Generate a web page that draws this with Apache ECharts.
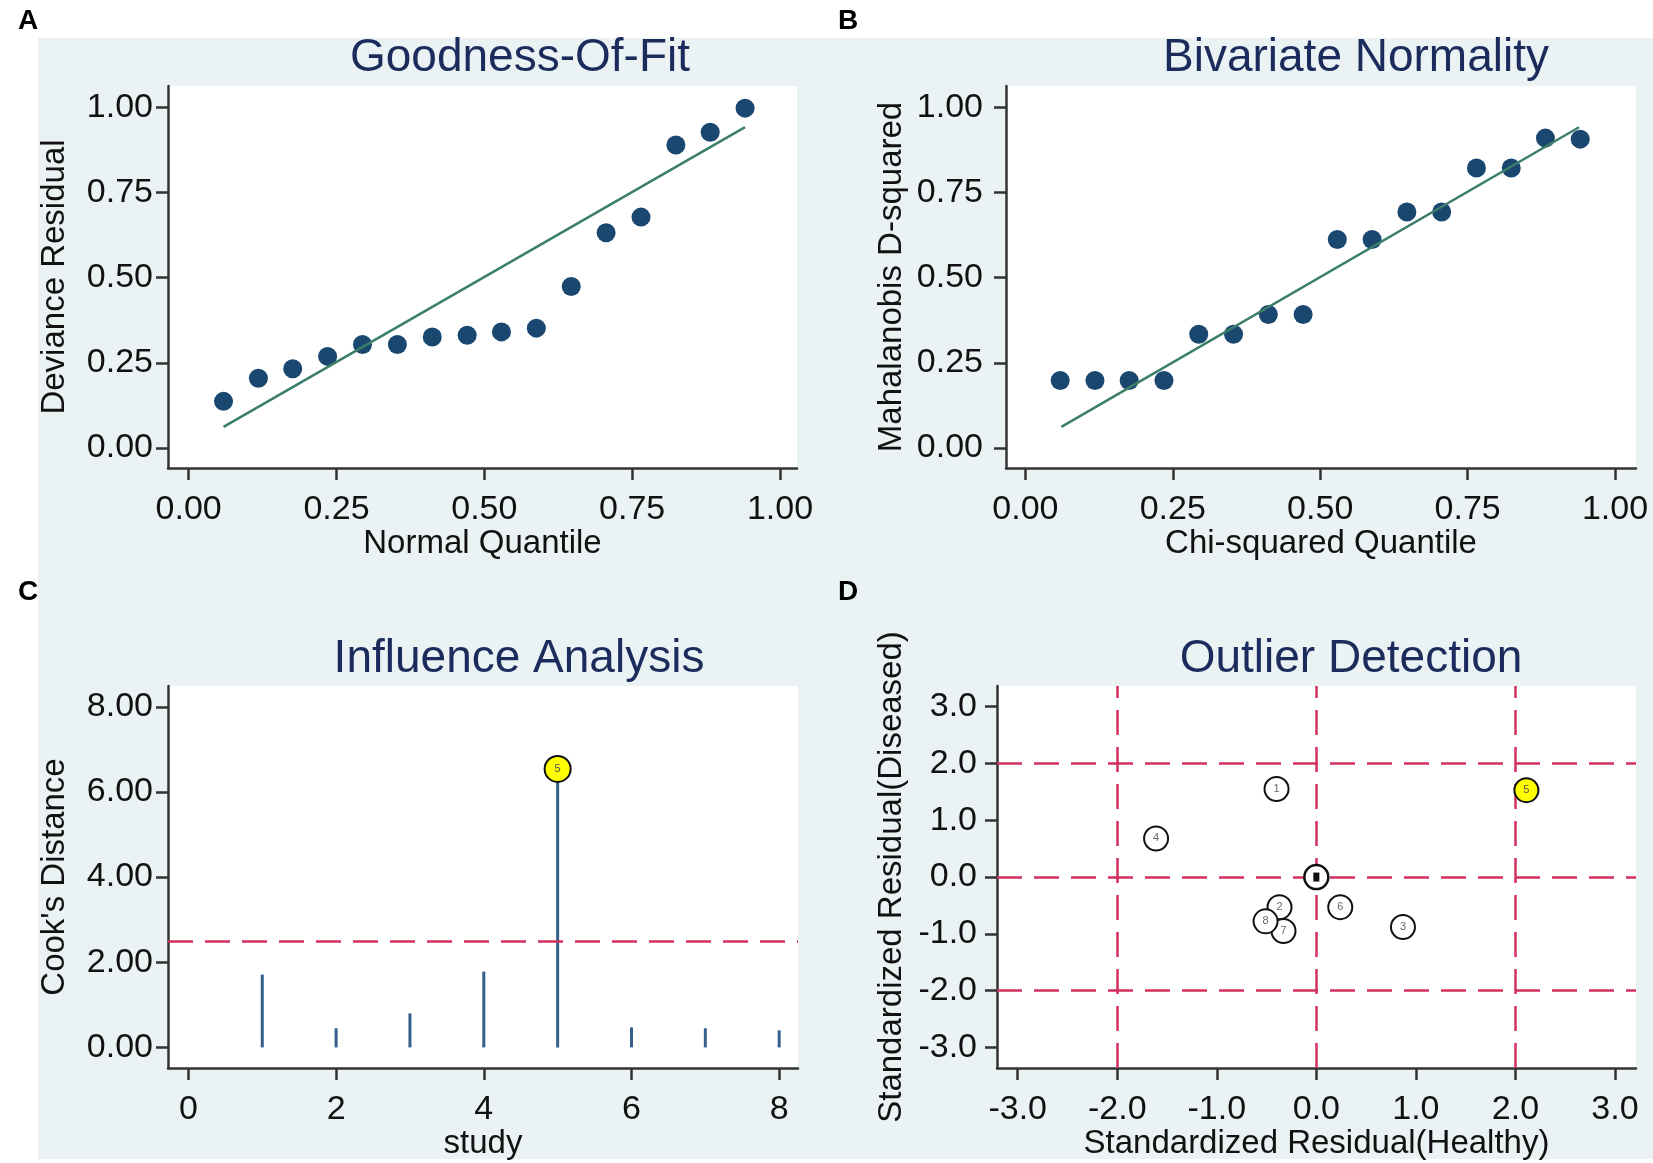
<!DOCTYPE html>
<html>
<head>
<meta charset="utf-8">
<script src="https://cdn.jsdelivr.net/npm/echarts@6/dist/echarts.min.js"></script>
<style>
  html, body { margin: 0; padding: 0; background: #fff; }
  #main { width: 1653px; height: 1163px; }
</style>
</head>
<body>
<div id="main"></div>
<script>
// A: goodness of fit
var gofX = [0.059, 0.118, 0.176, 0.235, 0.294, 0.353, 0.412, 0.471, 0.529, 0.588, 0.647, 0.706, 0.765, 0.824, 0.882, 0.941];
var gofY = [0.137, 0.205, 0.233, 0.269, 0.304, 0.304, 0.326, 0.331, 0.341, 0.352, 0.474, 0.632, 0.678, 0.890, 0.927, 0.998];
var gofLine = [[0.059, 0.062], [0.941, 0.942]];

// B: bivariate normality
var bivX = [0.059, 0.118, 0.176, 0.235, 0.294, 0.353, 0.412, 0.471, 0.529, 0.588, 0.647, 0.706, 0.765, 0.824, 0.882, 0.941];
var bivY = [0.198, 0.198, 0.198, 0.198, 0.334, 0.334, 0.392, 0.392, 0.612, 0.612, 0.693, 0.693, 0.822, 0.822, 0.910, 0.907];
var bivLine = [[0.061, 0.062], [0.939, 0.942]];

// C: influence analysis
var studyIds = [1, 2, 3, 4, 5, 6, 7, 8];
var cooksD = [1.71, 0.45, 0.80, 1.78, 6.54, 0.47, 0.45, 0.40];
var cooksCut = 2.5;

// D: outlier detection
var residHealthy = [-0.40, -0.37, 0.87, -1.61, 2.11, 0.24, -0.33, -0.51];
var residDiseased = [1.55, -0.53, -0.88, 0.68, 1.53, -0.53, -0.95, -0.78];
var residCut = [-2, 0, 2];
var residCenter = [[0, 0]];

// tick labels
var quantTicks = [0, 0.25, 0.5, 0.75, 1];
var studyTicks = [0, 2, 4, 6, 8];
var cookTicks = [0, 2, 4, 6, 8];
var residTicks = [-3, -2, -1, 0, 1, 2, 3];

var FONT = '"Liberation Sans", Arial, sans-serif';
var BG = '#EAF2F3';
var NAVY = '#1A476F';
var GREEN = '#3B7F6A';
var RED = '#D4305E';
var TITLE = '#1B2B5C';

function valueAxis(idx, min, max, ticks, digits, name, gap, margin) {
    return {
        type: 'value',
        gridIndex: idx,
        min: min,
        max: max,
        name: name,
        nameLocation: 'middle',
        nameGap: gap,
        nameTextStyle: { fontFamily: FONT, fontSize: 33, color: '#111' },
        axisLine: { show: true, onZero: false, lineStyle: { color: '#333', width: 2.5 } },
        axisTick: { show: true, inside: false, length: 12, customValues: ticks, lineStyle: { color: '#333', width: 2.5 } },
        axisLabel: {
            show: true,
            customValues: ticks,
            margin: margin,
            fontFamily: FONT,
            fontSize: 34,
            color: '#111',
            formatter: function (v) { return Number(v).toFixed(digits); }
        },
        splitLine: { show: false }
    };
}

function pairs(xs, ys) {
    var out = [];
    for (var i = 0; i < xs.length; i++) out.push([xs[i], ys[i]]);
    return out;
}

// 阈值参考线
function dashLines(axisKey, values) {
    var data = [];
    for (var i = 0; i < values.length; i++) {
        var d = {};
        d[axisKey] = values[i];
        data.push(d);
    }
    return {
        silent: true,
        symbol: ['none', 'none'],
        label: { show: false },
        lineStyle: { color: RED, width: 2.5, type: [25, 12], opacity: 1 },
        data: data
    };
}

var cookBars = pairs(studyIds, cooksD);
var cookOut = cookBars.filter(function (p) { return p[1] > cooksCut; });

var outlierAll = [];
for (var i = 0; i < studyIds.length; i++) {
    outlierAll.push({ value: [residHealthy[i], residDiseased[i]], name: String(studyIds[i]) });
}
var outlierIn = outlierAll.filter(function (d) { return Math.abs(d.value[0]) <= 2 && Math.abs(d.value[1]) <= 2; });
var outlierOut = outlierAll.filter(function (d) { return Math.abs(d.value[0]) > 2 || Math.abs(d.value[1]) > 2; });

var gridBox = { show: true, backgroundColor: '#fff', borderWidth: 0, containLabel: false, outerBoundsMode: 'none' };

var option = {
    backgroundColor: '#fff',
    animation: false,
    textStyle: { fontFamily: FONT },
    graphic: [
        { type: 'rect', z: -100, shape: { x: 38, y: 38, width: 1615, height: 1121 }, style: { fill: BG } },
        { type: 'text', x: 18, y: 21, style: { text: 'A', font: 'bold 28px ' + FONT, fill: '#000', textVerticalAlign: 'middle' } },
        { type: 'text', x: 838, y: 21, style: { text: 'B', font: 'bold 28px ' + FONT, fill: '#000', textVerticalAlign: 'middle' } },
        { type: 'text', x: 18, y: 592, style: { text: 'C', font: 'bold 28px ' + FONT, fill: '#000', textVerticalAlign: 'middle' } },
        { type: 'text', x: 838, y: 592, style: { text: 'D', font: 'bold 28px ' + FONT, fill: '#000', textVerticalAlign: 'middle' } },
        { type: 'text', x: 520, y: 58, style: { text: 'Goodness-Of-Fit', font: '46px ' + FONT, fill: TITLE, textAlign: 'center', textVerticalAlign: 'middle' } },
        { type: 'text', x: 1356, y: 58, style: { text: 'Bivariate Normality', font: '46px ' + FONT, fill: TITLE, textAlign: 'center', textVerticalAlign: 'middle' } },
        { type: 'text', x: 519, y: 659, style: { text: 'Influence Analysis', font: '46px ' + FONT, fill: TITLE, textAlign: 'center', textVerticalAlign: 'middle' } },
        { type: 'text', x: 1351, y: 659, style: { text: 'Outlier Detection', font: '46px ' + FONT, fill: TITLE, textAlign: 'center', textVerticalAlign: 'middle' } }
    ],
    grid: [
        Object.assign({ left: 168, top: 86, width: 629, height: 382 }, gridBox),
        Object.assign({ left: 1006, top: 86, width: 630, height: 382 }, gridBox),
        Object.assign({ left: 168, top: 686, width: 630, height: 382 }, gridBox),
        Object.assign({ left: 997, top: 686, width: 639, height: 382 }, gridBox)
    ],
    xAxis: [
        valueAxis(0, -0.0349, 1.0288, quantTicks, 2, 'Normal Quantile', 57, 25),
        valueAxis(1, -0.0329, 1.0356, quantTicks, 2, 'Chi-squared Quantile', 57, 25),
        valueAxis(2, -0.2765, 8.255, studyTicks, 0, 'study', 58, 25),
        valueAxis(3, -3.208, 3.211, residTicks, 1, 'Standardized Residual(Healthy)', 59, 25)
    ],
    yAxis: [
        valueAxis(0, -0.0587, 1.063, quantTicks, 2, 'Deviance Residual', 97, 15),
        valueAxis(1, -0.0587, 1.063, quantTicks, 2, 'Mahalanobis D-squared', 98, 23),
        valueAxis(2, -0.4836, 8.488, cookTicks, 2, "Cook's Distance", 97, 15),
        valueAxis(3, -3.362, 3.364, residTicks, 1, 'Standardized Residual(Diseased)', 89, 20)
    ],
    series: [
        {
            type: 'scatter', xAxisIndex: 0, yAxisIndex: 0,
            data: pairs(gofX, gofY),
            symbolSize: 19,
            itemStyle: { color: NAVY, opacity: 1 }
        },
        {
            type: 'line', xAxisIndex: 0, yAxisIndex: 0,
            data: gofLine, showSymbol: false, symbol: 'none',
            lineStyle: { color: GREEN, width: 2.5 }
        },
        {
            type: 'scatter', xAxisIndex: 1, yAxisIndex: 1,
            data: pairs(bivX, bivY),
            symbolSize: 19,
            itemStyle: { color: NAVY, opacity: 1 }
        },
        {
            type: 'line', xAxisIndex: 1, yAxisIndex: 1,
            data: bivLine, showSymbol: false, symbol: 'none',
            lineStyle: { color: GREEN, width: 2.5 }
        },
        {
            type: 'bar', xAxisIndex: 2, yAxisIndex: 2,
            data: cookBars,
            barWidth: 3,
            itemStyle: { color: '#35608C' },
            markLine: dashLines('yAxis', [cooksCut])
        },
        {
            type: 'scatter', xAxisIndex: 2, yAxisIndex: 2,
            data: cookOut,
            symbolSize: 26,
            itemStyle: { color: '#FFFF00', borderColor: '#111', borderWidth: 2, opacity: 1 },
            label: { show: true, position: 'inside', fontSize: 11, color: '#555', formatter: function (p) { return String(p.value[0]); } },
            z: 5
        },
        {
            type: 'scatter', xAxisIndex: 3, yAxisIndex: 3,
            data: [],
            markLine: dashLines('xAxis', residCut)
        },
        {
            type: 'scatter', xAxisIndex: 3, yAxisIndex: 3,
            data: [],
            markLine: dashLines('yAxis', residCut)
        },
        {
            type: 'scatter', xAxisIndex: 3, yAxisIndex: 3,
            data: outlierIn,
            symbolSize: 24,
            itemStyle: { color: '#fff', borderColor: '#111', borderWidth: 2, opacity: 1 },
            label: { show: true, position: 'inside', fontSize: 11, color: '#666', formatter: '{b}' },
            z: 5
        },
        {
            type: 'scatter', xAxisIndex: 3, yAxisIndex: 3,
            data: outlierOut,
            symbolSize: 24,
            itemStyle: { color: '#FFFF00', borderColor: '#111', borderWidth: 2, opacity: 1 },
            label: { show: true, position: 'inside', fontSize: 11, color: '#555', formatter: '{b}' },
            z: 5
        },
        {
            type: 'scatter', xAxisIndex: 3, yAxisIndex: 3,
            data: residCenter,
            symbolSize: 24,
            itemStyle: { color: '#fff', borderColor: '#111', borderWidth: 2.5, opacity: 1 },
            z: 5
        },
        {
            type: 'scatter', xAxisIndex: 3, yAxisIndex: 3,
            data: residCenter,
            symbol: 'rect',
            symbolSize: [6, 9],
            itemStyle: { color: '#111', opacity: 1 },
            z: 6
        }
    ]
};

var chart = echarts.init(document.getElementById('main'));
chart.setOption(option);
window.addEventListener('resize', function () { chart.resize(); });
</script>
</body>
</html>
